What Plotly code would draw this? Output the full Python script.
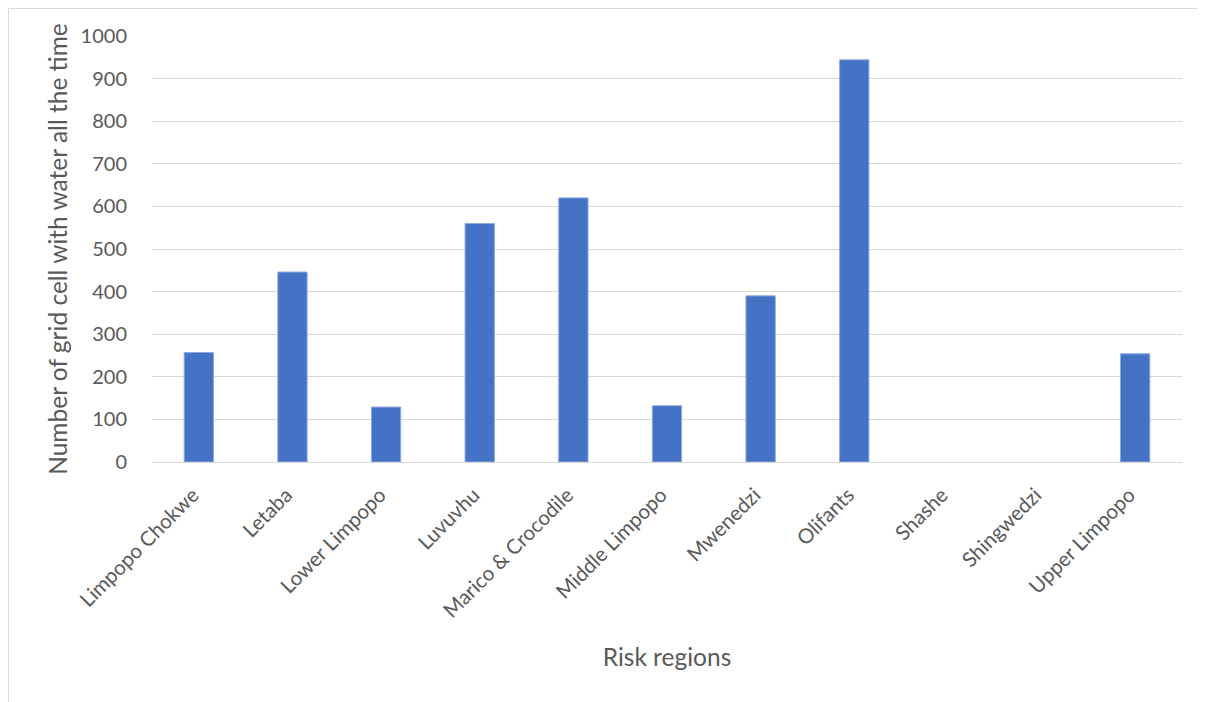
import plotly.graph_objects as go

regions = ["Limpopo Chokwe", "Letaba", "Lower Limpopo", "Luvuvhu", "Marico & Crocodile",
           "Middle Limpopo", "Mwenedzi", "Olifants", "Shashe", "Shingwedzi", "Upper Limpopo"]
cells = [257, 446, 129, 560, 620, 132, 390, 944, 0, 0, 254]
y_ticks = [0, 100, 200, 300, 400, 500, 600, 700, 800, 900, 1000]

FONT = "Lato, 'Open Sans', sans-serif"
W, H = 1197, 694
ML, MR, MT, MB = 144, 23, 28, 240
pw = W - ML - MR
ph = H - MT - MB

fig = go.Figure(go.Bar(
    x=regions, y=cells, width=0.313,
    marker=dict(color="#4472C4",
                line=dict(color="#8FAADC", width=[1 if v > 0 else 0 for v in cells])),
))

fig.update_layout(
    width=W, height=H,
    margin=dict(l=ML, r=MR, t=MT, b=MB, pad=0),
    paper_bgcolor="white", plot_bgcolor="white",
    showlegend=False,
    font=dict(family=FONT, color="#595959", size=20),
    xaxis=dict(
        tickangle=-45, showgrid=False, showline=True, linecolor="#D9D9D9", linewidth=1,
        ticks="", tickfont=dict(size=20.5, color="#595959"),
        ticklabelstandoff=12, ticklabelshift=-6,
        title=dict(text="Risk regions", font=dict(size=24.5, color="#595959"), standoff=27),
    ),
    yaxis=dict(
        range=[0, 1000], tickvals=y_ticks, showgrid=True, gridcolor="#D9D9D9", gridwidth=1,
        zeroline=False, ticks="", ticklabelstandoff=24,
        tickfont=dict(size=20, color="#595959"),
        title=dict(text="Number of grid cell with water all the time",
                   font=dict(size=24.5, color="#595959"), standoff=6),
    ),
    shapes=[dict(
        type="rect", xref="paper", yref="paper",
        x0=(0.5 - ML) / pw, x1=(W + 10 - ML) / pw,
        y0=-(H + 10 - MT - ph) / ph, y1=1 + (MT - 0.5) / ph,
        line=dict(color="#D9D9D9", width=1), fillcolor="rgba(0,0,0,0)", layer="below",
    )],
)

fig.write_html("out.html")
